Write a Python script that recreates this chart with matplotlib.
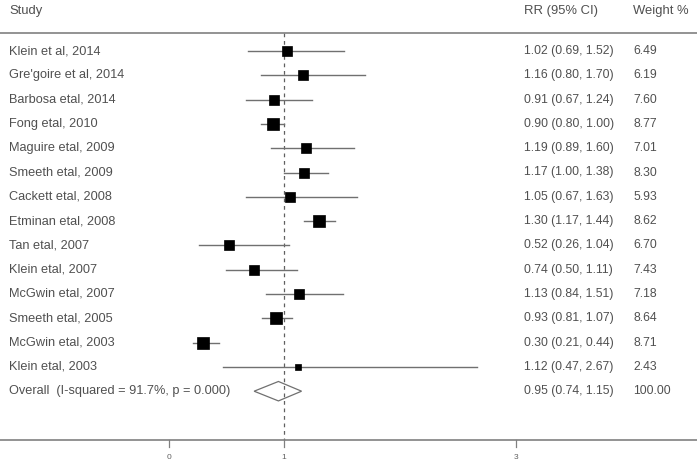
import matplotlib
matplotlib.use("Agg")
import matplotlib.pyplot as plt
import numpy as np
from matplotlib.patches import Polygon
import matplotlib.transforms as mtransforms

studies = ["Klein et al, 2014", "Gre'goire et al, 2014", "Barbosa etal, 2014", "Fong etal, 2010",
           "Maguire etal, 2009", "Smeeth etal, 2009", "Cackett etal, 2008", "Etminan etal, 2008",
           "Tan etal, 2007", "Klein etal, 2007", "McGwin etal, 2007", "Smeeth etal, 2005",
           "McGwin etal, 2003", "Klein etal, 2003"]
rr = [1.02, 1.16, 0.91, 0.90, 1.19, 1.17, 1.05, 1.30, 0.52, 0.74, 1.13, 0.93, 0.30, 1.12]
lo = [0.69, 0.80, 0.67, 0.80, 0.89, 1.00, 0.67, 1.17, 0.26, 0.50, 0.84, 0.81, 0.21, 0.47]
hi = [1.52, 1.70, 1.24, 1.00, 1.60, 1.38, 1.63, 1.44, 1.04, 1.11, 1.51, 1.07, 0.44, 2.67]
weights = [6.49, 6.19, 7.60, 8.77, 7.01, 8.30, 5.93, 8.62, 6.70, 7.43, 7.18, 8.64, 8.71, 2.43]
overall_label = "Overall  (I-squared = 91.7%, p = 0.000)"
overall = (0.95, 0.74, 1.15)
overall_weight = "100.00"
xticks = [0, 1, 3]
headers = ["Study", "RR (95% CI)", "Weight %"]

plt.rcParams['font.family'] = ['Liberation Sans', 'DejaVu Sans']
W, H = 697, 463
fig = plt.figure(figsize=(W/100, H/100), dpi=100)
ax = fig.add_axes([0, 0, 1, 1])
ax.set_axis_off()

# pixel mappings
x0px, unit = 168.5, 115.7
row0px, rowstep = 51.0, 24.3
ax.set_xlim((0 - x0px)/unit, (W - x0px)/unit)
ax.set_ylim((H - row0px)/rowstep, (0 - row0px)/rowstep)

def py(p):
    return (p - row0px)/rowstep

txtc = '#505050'
linec = '#808080'
fs = 9.2
fsn = 8.8
xs, xr, xw = 9/W, 524/W, 633/W
trans = mtransforms.blended_transform_factory(fig.transFigure, ax.transData)

# headers
ax.text(xs, py(11), headers[0], transform=trans, fontsize=9.4, color=txtc, va='center', ha='left')
ax.text(xr, py(11), headers[1], transform=trans, fontsize=9.4, color=txtc, va='center', ha='left')
ax.text(xw, py(11), headers[2], transform=trans, fontsize=9.4, color=txtc, va='center', ha='left')
ax.plot([0, 1], [py(33), py(33)], transform=trans, color=linec, lw=1.2)

n = len(studies)
for i in range(n):
    ax.plot([lo[i], hi[i]], [i, i], color='#707070', lw=1.0, zorder=2)
    side_px = 3.75*np.sqrt(weights[i])
    ax.plot(rr[i], i, marker='s', color='black', markersize=side_px*0.72, markeredgewidth=0.5, zorder=3)
    ax.text(xs, i, studies[i], transform=trans, fontsize=fs, color=txtc, va='center', ha='left')
    ax.text(xr, i, f"{rr[i]:.2f} ({lo[i]:.2f}, {hi[i]:.2f})", transform=trans, fontsize=fsn, color=txtc, va='center', ha='left')
    ax.text(xw, i, f"{weights[i]:.2f}", transform=trans, fontsize=fsn, color=txtc, va='center', ha='left')

yo = n
hh = 0.4
est, olo, ohi = overall
diamond = Polygon([[olo, yo], [est, yo - hh], [ohi, yo], [est, yo + hh]], closed=True,
                  fill=False, edgecolor='#707070', lw=0.9, zorder=3)
ax.add_patch(diamond)
ax.text(xs, yo, overall_label, transform=trans, fontsize=fs, color=txtc, va='center', ha='left')
ax.text(xr, yo, f"{est:.2f} ({olo:.2f}, {ohi:.2f})", transform=trans, fontsize=fsn, color=txtc, va='center', ha='left')
ax.text(xw, yo, overall_weight, transform=trans, fontsize=fsn, color=txtc, va='center', ha='left')

# dashed reference line at 1
ax.plot([1, 1], [py(33), py(440)], color='#606060', lw=0.9, ls=(0, (3, 3)), zorder=1)

# bottom axis
ax.plot([0, 1], [py(440), py(440)], transform=trans, color=linec, lw=1.2)
for t in xticks:
    ax.plot([t, t], [py(440), py(447)], color=linec, lw=0.9)
    ax.text(t, py(457), str(t), fontsize=6, color='#606060', ha='center', va='center')

fig.savefig("out.png", dpi=100)
